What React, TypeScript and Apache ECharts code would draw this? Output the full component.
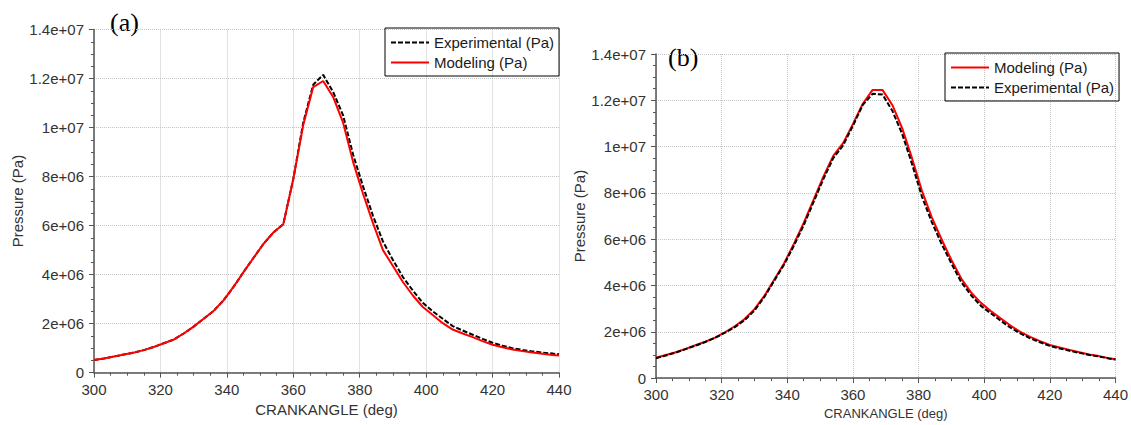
import React, { useEffect, useRef } from "react";
import * as echarts from "echarts";

// Crank angle samples (deg)
const angles = [
  300, 303, 306, 309, 312, 315, 318, 321, 324, 327, 330, 333, 336, 339, 342, 345, 348, 351, 354, 357,
  360, 363, 366, 369, 372, 375, 378, 381, 384, 387, 390, 393, 396, 399, 402, 405, 408, 411, 414, 417,
  420, 423, 426, 429, 432, 435, 438, 440,
];

// Panel (a) — pressure in MPa (×1e6 Pa)
const modelA = [
  0.52, 0.58, 0.66, 0.74, 0.82, 0.92, 1.05, 1.2, 1.35, 1.6, 1.88, 2.2, 2.52, 2.95, 3.5, 4.1, 4.68, 5.25, 5.72, 6.06,
  7.9, 10.1, 11.65, 11.9, 11.25, 10.2, 8.6, 7.3, 6.1, 5.0, 4.35, 3.7, 3.15, 2.68, 2.35, 2.02, 1.76, 1.6, 1.45, 1.29,
  1.14, 1.04, 0.95, 0.88, 0.82, 0.77, 0.72, 0.7,
];
const expA = [
  0.52, 0.58, 0.66, 0.74, 0.82, 0.92, 1.05, 1.2, 1.35, 1.6, 1.88, 2.2, 2.52, 2.95, 3.5, 4.1, 4.68, 5.25, 5.72, 6.06,
  7.9, 10.2, 11.75, 12.15, 11.45, 10.5, 8.9, 7.6, 6.4, 5.35, 4.6, 3.9, 3.35, 2.85, 2.5, 2.2, 1.9, 1.72, 1.55, 1.38,
  1.22, 1.1, 1.0, 0.93, 0.87, 0.82, 0.78, 0.75,
];

// Panel (b) — pressure in MPa (×1e6 Pa)
const modelB = [
  0.88, 1.0, 1.12, 1.26, 1.42, 1.57, 1.75, 1.98, 2.24, 2.55, 2.98, 3.55, 4.25, 4.95, 5.8, 6.7, 7.7, 8.7, 9.6, 10.15,
  10.97, 11.85, 12.45, 12.45, 11.8, 10.8, 9.5, 8.1, 6.95, 6.0, 5.1, 4.3, 3.7, 3.25, 2.9, 2.58, 2.27, 2.0, 1.78, 1.6,
  1.43, 1.32, 1.22, 1.12, 1.02, 0.95, 0.86, 0.81,
];
const expB = [
  0.86, 0.98, 1.1, 1.25, 1.4, 1.56, 1.74, 1.96, 2.2, 2.5, 2.92, 3.5, 4.2, 4.9, 5.72, 6.6, 7.6, 8.6, 9.5, 10.05,
  10.9, 11.8, 12.28, 12.25, 11.55, 10.55, 9.25, 7.85, 6.75, 5.8, 4.95, 4.15, 3.58, 3.12, 2.8, 2.48, 2.18, 1.93, 1.72, 1.55,
  1.39, 1.28, 1.18, 1.09, 1.0, 0.93, 0.85, 0.8,
];

const EXP = "Experimental (Pa)";
const MOD = "Modeling (Pa)";
const X_NAME = "CRANKANGLE (deg)";
const Y_NAME = "Pressure (Pa)";
const panelLabels = ["(a)", "(b)"];

const FONT = '"Liberation Sans", Arial, sans-serif';
const SERIF = '"Liberation Serif", "Times New Roman", serif';

const fmt = (v: number) => {
  if (v === 0) return "0";
  const [m, e] = v.toExponential().split("e");
  return `${m}e${e[0]}${e.slice(1).padStart(2, "0")}`;
};

const toPairs = (vals: number[]) => angles.map((a, i) => [a, vals[i] * 1e6]);

const axisColor = "#555";

function makeX(gridIndex: number, nameSize: number, nameGap: number) {
  return {
    type: "value",
    gridIndex,
    min: 300,
    max: 440,
    interval: 20,
    name: X_NAME,
    nameLocation: "middle",
    nameGap,
    nameTextStyle: { fontSize: nameSize, color: "#333", fontFamily: FONT },
    axisLine: { show: true, lineStyle: { color: axisColor, width: 1.5 } },
    axisTick: { show: true, length: 5, lineStyle: { color: axisColor } },
    minorTick: { show: true, splitNumber: 4, length: 3, lineStyle: { color: axisColor } },
    axisLabel: { fontSize: 15, color: "#333", margin: 9, fontFamily: FONT },
    splitLine: { show: true, lineStyle: { type: "dotted", color: "#c4c4c4" } },
  };
}

function makeY(gridIndex: number, nameGap: number) {
  return {
    type: "value",
    gridIndex,
    min: 0,
    max: 1.4e7,
    interval: 2e6,
    name: Y_NAME,
    nameLocation: "middle",
    nameGap,
    nameTextStyle: { fontSize: 15, color: "#333", fontFamily: FONT },
    axisLine: { show: true, lineStyle: { color: axisColor, width: 1.5 } },
    axisTick: { show: true, length: 5, lineStyle: { color: axisColor } },
    minorTick: { show: true, splitNumber: 4, length: 3, lineStyle: { color: axisColor } },
    axisLabel: { fontSize: 15, color: "#333", margin: 10, fontFamily: FONT, formatter: fmt },
    splitLine: { show: true, lineStyle: { type: "dotted", color: "#c4c4c4" } },
  };
}

const redLine = (name: string, data: number[], idx: number) => ({
  type: "line",
  name,
  xAxisIndex: idx,
  yAxisIndex: idx,
  data: toPairs(data),
  symbol: "none",
  lineStyle: { color: "#ff0000", width: 2 },
  itemStyle: { color: "#ff0000" },
});

const blackLine = (name: string, data: number[], idx: number) => ({
  type: "line",
  name,
  xAxisIndex: idx,
  yAxisIndex: idx,
  data: toPairs(data),
  symbol: "none",
  lineStyle: { color: "#000000", width: 2, type: [5, 2] },
  itemStyle: { color: "#000000" },
});

const legendBase = {
  orient: "vertical",
  padding: [7, 5, 6, 5],
  itemGap: 5,
  itemWidth: 38,
  itemHeight: 14,
  borderColor: "#000",
  borderWidth: 1,
  selectedMode: false,
  itemStyle: { opacity: 0 },
  textStyle: { fontSize: 15, color: "#1a1a1a", fontFamily: FONT },
};

export default function App() {
  const ref = useRef<HTMLDivElement>(null);

  useEffect(() => {
    if (!ref.current) return;
    const chart = echarts.init(ref.current, undefined, { renderer: "svg" });
    chart.setOption({
      animation: false,
      backgroundColor: "#ffffff",
      textStyle: { fontFamily: FONT },
      grid: [
        { left: 94, top: 29.5, width: 465, height: 343.2 },
        { left: 656, top: 54, width: 461, height: 327.7 },
      ],
      xAxis: [makeX(0, 15, 25), makeX(1, 13, 26)],
      yAxis: [makeY(0, 67), makeY(1, 66)],
      legend: [
        { ...legendBase, left: 385, top: 28, data: [EXP, MOD] },
        { ...legendBase, left: 945, top: 53, data: [MOD, EXP] },
      ],
      graphic: [
        {
          type: "text",
          left: 110,
          top: 9,
          style: { text: panelLabels[0], font: `26px ${SERIF}`, fill: "#000" },
        },
        {
          type: "text",
          left: 668,
          top: 44,
          style: { text: panelLabels[1], font: `26px ${SERIF}`, fill: "#000" },
        },
      ],
      series: [
        blackLine(EXP, expA, 0),
        redLine(MOD, modelA, 0),
        redLine(MOD, modelB, 1),
        blackLine(EXP, expB, 1),
      ],
    });
    return () => chart.dispose();
  }, []);

  return (
    <div
      ref={ref}
      style={{ position: "fixed", left: 0, top: 0, width: 1131, height: 425, background: "#fff" }}
    />
  );
}
